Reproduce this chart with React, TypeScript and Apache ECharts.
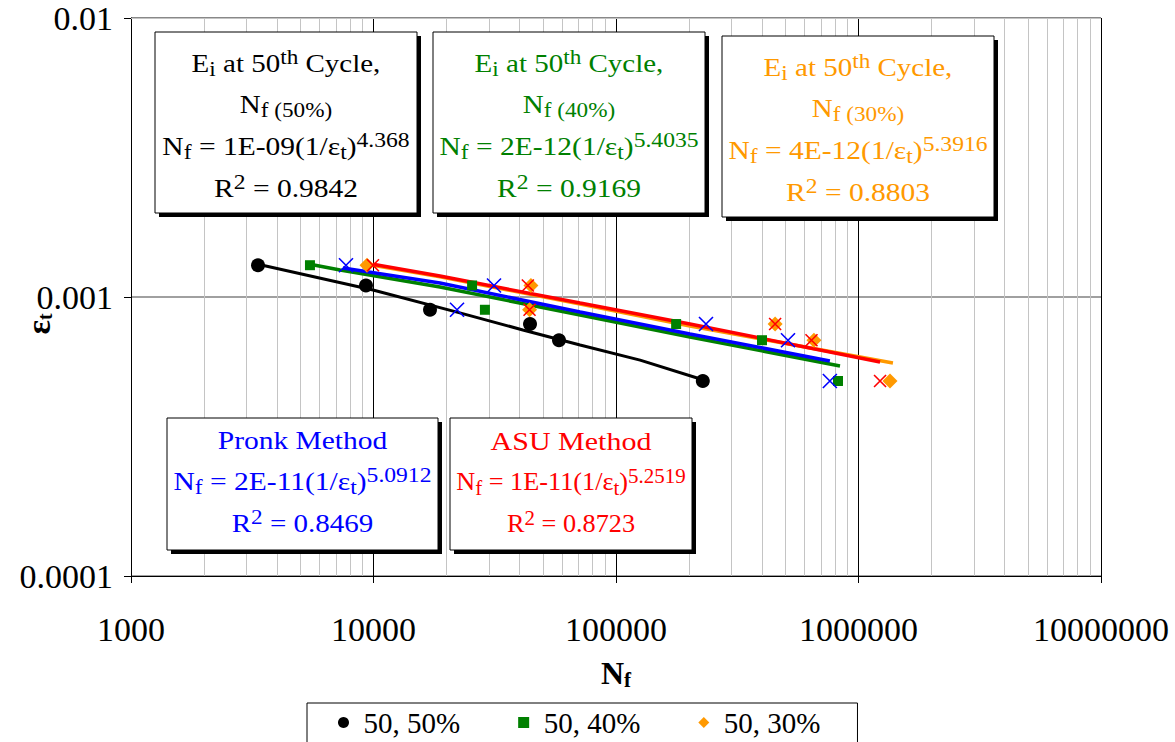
import React, { useEffect, useRef } from 'react';
import * as echarts from 'echarts';

const SERIF = '"Liberation Serif", "Times New Roman", serif';

// Axis tick labels
const xTickLabels = ['1000', '10000', '100000', '1000000', '10000000'];
const yTickLabels = ['0.0001', '0.001', '0.01'];

// Minor grid (log 2..9 per decade)
const minorMultipliers = [2, 3, 4, 5, 6, 7, 8, 9];
const xDecades = [1000, 10000, 100000, 1000000];
const yDecades = [0.0001, 0.001];

// Legend / series names
const legendNames = ['50, 50%', '50, 40%', '50, 30%'];

// Measured points [Nf, strain]
const black50Pts = [[3340, 0.0013], [9310, 0.0011], [17100, 0.0009], [44200, 0.0008], [58200, 0.0007], [228000, 0.0005]];
const green40Pts = [[5470, 0.0013], [25500, 0.0011], [28800, 0.0009], [177000, 0.0008], [400000, 0.0007], [823000, 0.0005]];
const orange30Pts = [[9400, 0.0013], [44600, 0.0011], [44000, 0.0009], [453000, 0.0008], [655000, 0.0007], [1349000, 0.0005]];
const pronkPts = [[7700, 0.0013], [31400, 0.0011], [22100, 0.0009], [235000, 0.0008], [512000, 0.0007], [762000, 0.0005]];
const asuPts = [[9950, 0.0013], [43300, 0.0011], [44000, 0.0009], [453000, 0.0008], [640000, 0.0007], [1227000, 0.0005]];

// Fitted trend lines
const blackFit = [[3340, 0.00131], [9950, 0.00106], [22700, 0.000877], [41300, 0.000762], [71100, 0.000673], [125700, 0.000594], [228000, 0.000505]];
const greenFit = [[5470, 0.00131], [7280, 0.00125], [18800, 0.001086], [71100, 0.000862], [201800, 0.000719], [839000, 0.000566]];
const blueFit = [[7480, 0.00127], [18800, 0.001122], [71100, 0.000883], [201800, 0.000737], [762000, 0.00059]];
const orangeFit = [[9400, 0.00131], [18800, 0.001181], [71100, 0.000944], [201800, 0.000787], [1387000, 0.00058]];
const redFit = [[9950, 0.00131], [18800, 0.001189], [71100, 0.000951], [201800, 0.0008], [1227000, 0.000585]];

// Annotation box texts (rich-text markup)
const NB = '\u00a0';
const box50Lines = [
  `{m|E}{sub|i}{m|${NB}at${NB}50}{sup|th}{m|${NB}Cycle,}`,
  `{m|N}{sub|f${NB}(50%)}`,
  `{m|N}{sub|f}{m|${NB}=${NB}1E-09(1/ε}{sub|t}{m|)}{sup|4.368}`,
  `{m|R}{sup|2}{m|${NB}=${NB}0.9842}`,
];
const box40Lines = [
  `{m|E}{sub|i}{m|${NB}at${NB}50}{sup|th}{m|${NB}Cycle,}`,
  `{m|N}{sub|f${NB}(40%)}`,
  `{m|N}{sub|f}{m|${NB}=${NB}2E-12(1/ε}{sub|t}{m|)}{sup|5.4035}`,
  `{m|R}{sup|2}{m|${NB}=${NB}0.9169}`,
];
const box30Lines = [
  `{m|E}{sub|i}{m|${NB}at${NB}50}{sup|th}{m|${NB}Cycle,}`,
  `{m|N}{sub|f${NB}(30%)}`,
  `{m|N}{sub|f}{m|${NB}=${NB}4E-12(1/ε}{sub|t}{m|)}{sup|5.3916}`,
  `{m|R}{sup|2}{m|${NB}=${NB}0.8803}`,
];
const pronkLines = [
  `{m|Pronk${NB}Method}`,
  `{m|N}{sub|f}{m|${NB}=${NB}2E-11(1/ε}{sub|t}{m|)}{sup|5.0912}`,
  `{m|R}{sup|2}{m|${NB}=${NB}0.8469}`,
];
const asuLines = [
  `{m|ASU${NB}Method}`,
  `{m|N}{sub|f}{m|${NB}=${NB}1E-11(1/ε}{sub|t}{m|)}{sup|5.2519}`,
  `{m|R}{sup|2}{m|${NB}=${NB}0.8723}`,
];

const C_BLACK = '#000000';
const C_GREEN = '#008000';
const C_ORANGE = '#FF9900';
const C_BLUE = '#0000FF';
const C_RED = '#FF0000';

const X_PATH = 'path://M0,0L10,10M10,0L0,10';
const SQUARE_PATH = 'path://M0,0L10,0L10,10L0,10Z';
const DIAMOND_PATH = 'path://M5,0L10,5L5,10L0,5Z';

function richFor(color: string) {
  return {
    m: { fontSize: 25, fontFamily: SERIF, fill: color, color, lineHeight: 32, verticalAlign: 'middle' },
    sub: { fontSize: 20, fontFamily: SERIF, fill: color, color, lineHeight: 20, verticalAlign: 'bottom' },
    sup: { fontSize: 20, fontFamily: SERIF, fill: color, color, lineHeight: 20, verticalAlign: 'top' },
  };
}

function makeBox(x: number, y: number, w: number, h: number, color: string, lines: string[], ys: number[], scales: number[]) {
  const els: any[] = [
    { type: 'rect', z: 100, shape: { x: x + 4, y: y + 4, width: w, height: h }, style: { fill: '#000' } },
    { type: 'rect', z: 100, z2: 1, shape: { x, y, width: w, height: h }, style: { fill: '#fff', stroke: '#000', lineWidth: 1 } },
  ];
  lines.forEach((t, i) => {
    els.push({
      type: 'text',
      z: 101,
      x: x + w / 2,
      y: ys[i],
      scaleX: scales[i],
      style: {
        text: t,
        rich: richFor(color),
        fill: color,
        fontSize: 25,
        fontFamily: SERIF,
        align: 'center',
        verticalAlign: 'middle',
        textAlign: 'center',
        textVerticalAlign: 'middle',
      },
    });
  });
  return els;
}

export default function App() {
  const ref = useRef<HTMLDivElement>(null);

  useEffect(() => {
    if (!ref.current) return;
    const chart = echarts.init(ref.current, undefined, { renderer: 'svg' });

    const xMinor = xDecades.flatMap((d) => minorMultipliers.map((m) => m * d));
    const yMinor = yDecades.flatMap((d) => minorMultipliers.map((m) => m * d));

    const s4 = [1.16, 1.16, 1.18, 1.18];
    const graphic: any[] = [
      ...makeBox(155, 32, 262, 181, C_BLACK, box50Lines, [64, 105, 147, 189], s4),
      ...makeBox(433, 32, 272, 181, C_GREEN, box40Lines, [64, 105, 147, 189], s4),
      ...makeBox(722, 36, 272, 181, C_ORANGE, box30Lines, [68, 109, 151, 193], s4),
      ...makeBox(167, 418, 271, 132, C_BLUE, pronkLines, [441, 482, 524], [1.18, 1.18, 1.16]),
      ...makeBox(450, 418, 242, 132, C_RED, asuLines, [441, 482, 524], [1.2, 1.05, 1.05]),
      {
        type: 'text',
        z: 101,
        x: 38,
        y: 324,
        rotation: Math.PI / 2,
        style: {
          text: '{b|ε}{s|t}',
          rich: {
            b: { fontSize: 34, fontFamily: SERIF, fontWeight: 'bold', fill: '#000', lineHeight: 34, verticalAlign: 'middle' },
            s: { fontSize: 20, fontFamily: SERIF, fontWeight: 'bold', fill: '#000', lineHeight: 20, verticalAlign: 'bottom' },
          },
          fill: '#000',
          align: 'center',
          verticalAlign: 'middle',
          textAlign: 'center',
          textVerticalAlign: 'middle',
        },
      },
    ];

    const option: any = {
      animation: false,
      backgroundColor: '#ffffff',
      grid: { left: 131, top: 18, right: 74, bottom: 166, containLabel: false },
      legend: {
        data: [
          { name: legendNames[0], icon: 'circle' },
          { name: legendNames[1], icon: SQUARE_PATH },
          { name: legendNames[2], icon: DIAMOND_PATH },
        ],
        left: 307,
        top: 703,
        orient: 'horizontal',
        itemWidth: 14,
        itemHeight: 11,
        symbolKeepAspect: true,
        itemGap: 58,
        padding: [5, 37, 20, 31],
        borderColor: '#000',
        borderWidth: 1,
        backgroundColor: '#fff',
        selectedMode: false,
        textStyle: { fontFamily: SERIF, fontSize: 29, color: '#000', padding: [0, 0, 0, 8] },
      },
      xAxis: {
        type: 'log',
        logBase: 10,
        min: 1000,
        max: 10000000,
        axisLine: { show: true, onZero: false, lineStyle: { color: '#000', width: 1 } },
        axisTick: { show: true, length: 7, lineStyle: { color: '#000' } },
        axisLabel: {
          formatter: (v: number) => xTickLabels[Math.round(Math.log10(v)) - 3] ?? '',
          fontFamily: SERIF,
          fontSize: 34,
          color: '#000',
          margin: 36,
        },
        splitLine: { show: true, lineStyle: { color: '#000', width: 1 } },
        minorTick: { show: false },
        name: '{b|N}{s|f}',
        nameLocation: 'middle',
        nameGap: 80,
        nameTextStyle: {
          rich: {
            b: { fontFamily: SERIF, fontSize: 32, fontWeight: 'bold', color: '#000', lineHeight: 34, verticalAlign: 'middle' },
            s: { fontFamily: SERIF, fontSize: 21, fontWeight: 'bold', color: '#000', lineHeight: 21, verticalAlign: 'bottom' },
          },
        },
      },
      yAxis: {
        type: 'log',
        logBase: 10,
        min: 0.0001,
        max: 0.01,
        axisLine: { show: true, onZero: false, lineStyle: { color: '#000', width: 1 } },
        axisTick: { show: true, length: 7, lineStyle: { color: '#000' } },
        axisLabel: {
          formatter: (v: number) => yTickLabels[Math.round(Math.log10(v)) + 4] ?? '',
          fontFamily: SERIF,
          fontSize: 34,
          color: '#000',
          margin: 18,
        },
        splitLine: { show: true, lineStyle: { color: '#808080', width: 1.5 } },
      },
      series: [
        {
          name: 'minor-grid',
          type: 'line',
          data: [],
          silent: true,
          markLine: {
            z: 1,
            silent: true,
            symbol: ['none', 'none'],
            label: { show: false },
            emphasis: { disabled: true },
            lineStyle: { color: '#c4c4c4', width: 1, type: 'solid' },
            data: [...xMinor.map((v) => ({ xAxis: v })), ...yMinor.map((v) => ({ yAxis: v }))],
          },
        },
        { name: 'fit 50%', type: 'line', data: blackFit, symbol: 'none', silent: true, lineStyle: { color: C_BLACK, width: 3 }, itemStyle: { color: C_BLACK }, z: 3 },
        { name: 'fit 40%', type: 'line', data: greenFit, symbol: 'none', silent: true, lineStyle: { color: C_GREEN, width: 3.5 }, itemStyle: { color: C_GREEN }, z: 3 },
        { name: 'fit Pronk', type: 'line', data: blueFit, symbol: 'none', silent: true, lineStyle: { color: C_BLUE, width: 3.5 }, itemStyle: { color: C_BLUE }, z: 3 },
        { name: 'fit 30%', type: 'line', data: orangeFit, symbol: 'none', silent: true, lineStyle: { color: C_ORANGE, width: 3.5 }, itemStyle: { color: C_ORANGE }, z: 3 },
        { name: 'fit ASU', type: 'line', data: redFit, symbol: 'none', silent: true, lineStyle: { color: C_RED, width: 3.5 }, itemStyle: { color: C_RED }, z: 3 },
        { name: legendNames[0], type: 'scatter', data: black50Pts, symbol: 'circle', symbolSize: 14, itemStyle: { color: C_BLACK, opacity: 1 }, z: 4 },
        { name: legendNames[1], type: 'scatter', data: green40Pts, symbol: 'rect', symbolSize: 10, itemStyle: { color: C_GREEN, opacity: 1 }, z: 4 },
        { name: legendNames[2], type: 'scatter', data: orange30Pts, symbol: 'diamond', symbolSize: 15, itemStyle: { color: C_ORANGE, opacity: 1 }, z: 4 },
        { name: 'Pronk Method', type: 'scatter', data: pronkPts, symbol: X_PATH, symbolSize: 14, itemStyle: { color: 'rgba(0,0,0,0)', borderColor: C_BLUE, borderWidth: 1.6, opacity: 1 }, z: 4 },
        { name: 'ASU Method', type: 'scatter', data: asuPts, symbol: X_PATH, symbolSize: 12, itemStyle: { color: 'rgba(0,0,0,0)', borderColor: C_RED, borderWidth: 1.6, opacity: 1 }, z: 4 },
      ],
      graphic: { elements: graphic },
    };

    chart.setOption(option);
    return () => chart.dispose();
  }, []);

  return (
    <div
      ref={ref}
      style={{ position: 'fixed', left: 0, top: 0, width: 1175, height: 742, background: '#fff' }}
    />
  );
}
